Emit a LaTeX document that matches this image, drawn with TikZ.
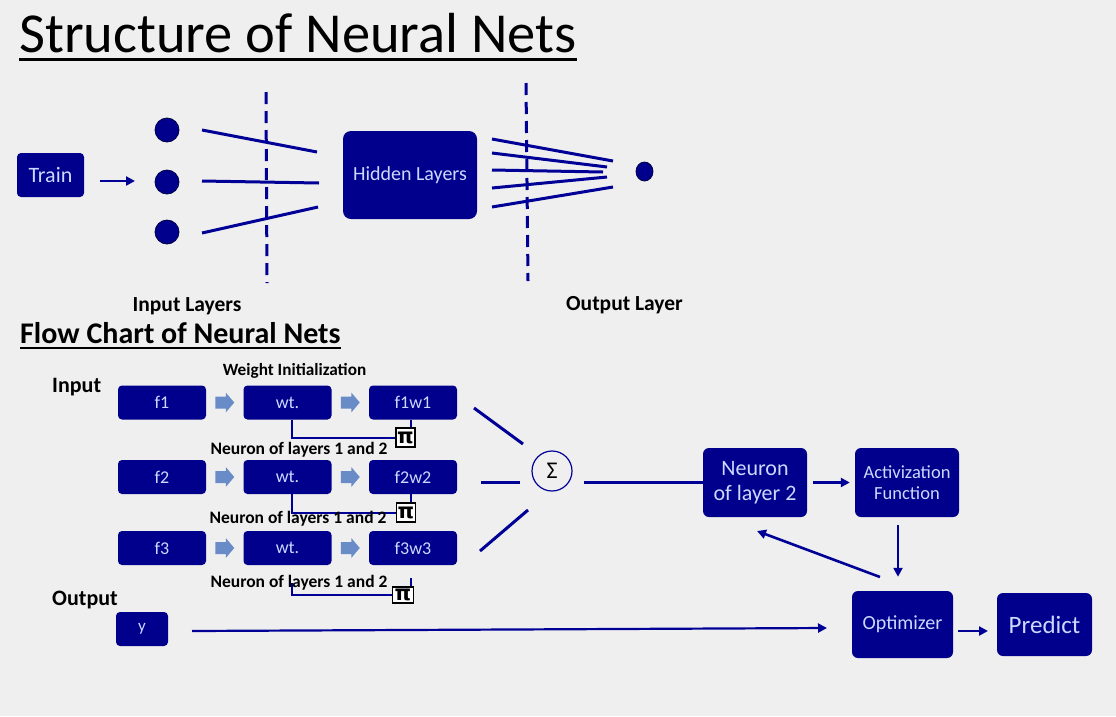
\documentclass[tikz,border=0pt]{standalone}
\usepackage{fontspec}
\setmainfont{Carlito}
\newfontfamily\djv{DejaVu Sans}
\usetikzlibrary{arrows.meta,calc,shapes.geometric}
\definecolor{navy}{RGB}{0,0,140}
\definecolor{lnavy}{RGB}{0,0,150}
\definecolor{bgc}{RGB}{239,239,239}
\definecolor{boxtext}{RGB}{200,218,255}
\definecolor{barrowc}{RGB}{105,140,200}
\begin{document}
\begin{tikzpicture}[x=1pt,y=-1pt,
  box/.style={fill=navy, text=boxtext, rounded corners=4pt, inner sep=0pt, align=center},
  fbox/.style={box, minimum width=88pt, minimum height=34pt, font=\fontsize{18}{20}\selectfont},
  lbl/.style={text=black, inner sep=0pt},
  seg/.style={draw=lnavy, line width=3pt},
  arr/.style={draw=lnavy, line width=2.6pt, -{Triangle[length=9pt,width=9pt]}},
  pline/.style={draw=lnavy, line width=2pt},
  pibox/.style={draw=black, fill=white, line width=1.3pt, minimum width=19pt, minimum height=19pt, inner sep=0pt, font=\djv\bfseries\fontsize{21}{21}\selectfont},
  dashv/.style={draw=lnavy, line width=3pt, dash pattern=on 12pt off 7pt},
  dot/.style={circle, fill=navy, draw=black!50!navy, line width=0.8pt, minimum size=24pt, inner sep=0pt},
  barrow/.pic={\fill[barrowc] (-9.5,-6) -- (1,-6) -- (1,-10) -- (9.5,0) -- (1,10) -- (1,6) -- (-9.5,6) -- cycle;}
]
\fill[bgc] (0,0) rectangle (1116,716);
\useasboundingbox (0,0) rectangle (1116,716);

% ---- titles
\node[lbl, anchor=base west] (title) at (19,52) {\fontsize{56.5}{60}\selectfont Structure of Neural Nets};
\draw[line width=3pt] ([yshift=-7pt]title.base west) -- ([yshift=-7pt]title.base east);
\node[lbl, anchor=base west] (ftitle) at (20,343) {\bfseries\fontsize{30}{32}\selectfont Flow Chart of Neural Nets};
\draw[line width=2.5pt] ([yshift=-5pt]ftitle.base west) -- ([yshift=-5pt]ftitle.base east);

% ---- structure
\node[box, minimum width=67pt, minimum height=44pt, font=\fontsize{22}{24}\selectfont] (train) at (50.5,175) {Train};
\node[dot] (in1) at (167,130) {};
\node[dot] (in2) at (167,182) {};
\node[dot] (in3) at (167,232) {};
\coordinate (ta) at (100,181);
\coordinate (tb) at (135,181);
\draw[arr] (ta) -- (tb);

\coordinate (d1t) at (266,92);
\coordinate (d1b) at (267,283);
\draw[dashv] (d1t) -- (d1b);
\coordinate (d2t) at (526,83);
\coordinate (d2b) at (528,281);
\draw[dashv] (d2t) -- (d2b);

\coordinate (a1) at (202,130); \coordinate (b1) at (317,152);
\coordinate (a2) at (202,181); \coordinate (b2) at (319,183);
\coordinate (a3) at (202,233); \coordinate (b3) at (318,207);
\draw[seg] (a1) -- (b1);
\draw[seg] (a2) -- (b2);
\draw[seg] (a3) -- (b3);

\node[box, rounded corners=8pt, minimum width=134pt, minimum height=88pt, font=\fontsize{20}{24}\selectfont] (hidden) at (410,175) {Hidden Layers};

\coordinate (h1) at (492,139); \coordinate (k1) at (613,161);
\coordinate (h2) at (492,153); \coordinate (k2) at (607,167);
\coordinate (h3) at (492,170); \coordinate (k3) at (603,172);
\coordinate (h4) at (492,188); \coordinate (k4) at (607,177);
\coordinate (h5) at (492,207); \coordinate (k5) at (613,187);
\foreach \i in {1,...,5} \draw[seg] (h\i) -- (k\i);

\node[ellipse, fill=navy, draw=black!50!navy, line width=0.8pt, minimum width=17pt, minimum height=19pt, inner sep=0pt] (out) at (644.5,171.5) {};

\node[lbl, anchor=base, font=\bfseries\fontsize{21.5}{24}\selectfont] (inl) at (187,311) {Input Layers};
\node[lbl, anchor=base, font=\bfseries\fontsize{21.5}{24}\selectfont] (outl) at (624.5,310) {Output Layer};

% ---- flow chart
\node[lbl, anchor=base west, font=\bfseries\fontsize{22}{24}\selectfont] (inputlbl) at (52,392) {Input};
\node[lbl, anchor=base west, font=\bfseries\fontsize{22}{24}\selectfont] (outputlbl) at (52,605) {Output};
\node[lbl, anchor=base, font=\bfseries\fontsize{17.2}{19}\selectfont] (winit) at (294.5,375) {Weight Initialization};

\node[fbox] (f1) at (162,402.5) {f1};
\node[fbox] (wt1) at (287.5,402.5) {wt.};
\node[fbox] (fw1) at (413,402.5) {f1w1};
\node[fbox] (f2) at (162,477) {f2};
\node[fbox] (wt2) at (287.5,477) {wt.};
\node[fbox] (fw2) at (413,477) {f2w2};
\node[fbox] (f3) at (162,548) {f3};
\node[fbox] (wt3) at (287.5,548) {wt.};
\node[fbox] (fw3) at (413,548) {f3w3};

\foreach \r in {1,2,3} {
  \pic at ($(f\r.east)!0.5!(wt\r.west)$) {barrow};
  \pic at ($(wt\r.east)!0.5!(fw\r.west)$) {barrow};
}

% pi connectors
\node[pibox] (pi1) at (405.5,437.5) {π};
\node[pibox] (pi2) at (406,512.5) {π};
\node[pibox, minimum height=16pt, minimum width=21pt] (pi3) at (403,595) {π};

\draw[pline] ([xshift=4.5pt]wt1.south) |- (pi1.west);
\draw[pline] ([xshift=-2pt]fw1.south) -- ([xshift=-2pt]fw1.south |- pi1.north);
\draw[pline] ([xshift=4.5pt]wt2.south) |- (pi2.west);
\draw[pline] ([xshift=-2pt]fw2.south) -- ([xshift=-2pt]fw2.south |- pi2.north);
\coordinate (r3a) at (292,583);
\coordinate (r3b) at (411,578);
\draw[pline] (r3a) |- (pi3.west);
\draw[pline] (r3b) -- (r3b |- pi3.north);

\node[lbl, anchor=base, font=\bfseries\fontsize{17.5}{19}\selectfont] (n1) at (299,454) {Neuron of layers 1 and 2};
\node[lbl, anchor=base, font=\bfseries\fontsize{17.5}{19}\selectfont] (n2) at (298,523) {Neuron of layers 1 and 2};
\node[lbl, anchor=base, font=\bfseries\fontsize{17.5}{19}\selectfont] (n3) at (299,587) {Neuron of layers 1 and 2};

% sigma
\node[circle, draw=lnavy, line width=1.2pt, minimum size=40pt, inner sep=0pt, font=\fontsize{24}{24}\selectfont] (sigma) at (552,471) {Σ};
\coordinate (s1a) at (474,408); \coordinate (s1b) at (523,444);
\coordinate (s2a) at (481,482); \coordinate (s2b) at (520,482);
\coordinate (s3a) at (480,551); \coordinate (s3b) at (528,510);
\draw[seg] (s1a) -- (s1b);
\draw[seg] (s2a) -- (s2b);
\draw[seg] (s3a) -- (s3b);

\node[box, rounded corners=6pt, minimum width=104pt, minimum height=69pt, font=\fontsize{22}{25}\selectfont] (neuron) at (755,482.5) {Neuron\\of layer 2};
\node[box, rounded corners=6pt, minimum width=104pt, minimum height=69pt, font=\fontsize{18.5}{21}\selectfont] (activ) at (907,482.5) {Activization\\Function};
\node[box, rounded corners=6pt, minimum width=101pt, minimum height=67pt, font=\fontsize{20}{22}\selectfont] (opt) at (902.5,624.5) {Optimizer};
\node[box, rounded corners=6pt, minimum width=95pt, minimum height=63pt, font=\fontsize{25}{27}\selectfont] (pred) at (1044.5,624.5) {Predict};
\node[box, minimum width=52pt, minimum height=34pt, font=\fontsize{17}{19}\selectfont] (ybox) at (142,629) {y};

\coordinate (sr) at (584,482);
\draw[seg] (sr) -- (neuron.west |- sr);
\draw[arr, shorten <=6pt, shorten >=5pt] (neuron) -- (activ);
\draw[arr, shorten <=8pt, shorten >=14pt] ([xshift=-9pt]activ.south) -- ([xshift=-9pt]activ.south |- opt.north);
\coordinate (fbA) at (880,577);
\coordinate (fbB) at (757,531);
\draw[arr] (fbA) -- (fbB);
\coordinate (opA) at (958,631);
\coordinate (opB) at (988,631);
\draw[arr] (opA) -- (opB);
\coordinate (yA) at (192,631);
\coordinate (yB) at (827,628);
\draw[arr, line width=2.2pt] (yA) -- (yB);
\end{tikzpicture}
\end{document}
